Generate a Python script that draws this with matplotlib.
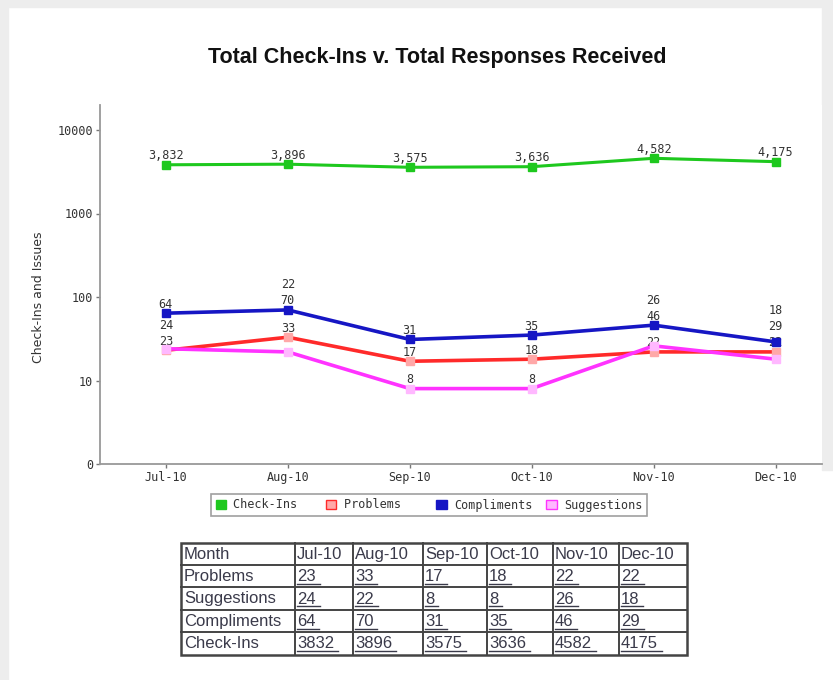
import matplotlib
matplotlib.use('Agg')
import matplotlib.pyplot as plt
from matplotlib.patches import Rectangle, Patch
from matplotlib.ticker import FixedLocator, FixedFormatter, NullLocator

months = ['Jul-10', 'Aug-10', 'Sep-10', 'Oct-10', 'Nov-10', 'Dec-10']
check_ins = [3832, 3896, 3575, 3636, 4582, 4175]
problems = [23, 33, 17, 18, 22, 22]
suggestions = [24, 22, 8, 8, 26, 18]
compliments = [64, 70, 31, 35, 46, 29]

y_ticks = [1, 10, 100, 1000, 10000]
y_tick_labels = ['0', '10', '100', '1000', '10000']

W, H = 833, 680
fig = plt.figure(figsize=(W / 100, H / 100), dpi=100)
fig.patch.set_facecolor('white')


def fx(px):
    return px / W


def fy(py):
    return 1 - py / H


# screenshot frame around the card
for x0, y0, w, h in [(0, 0, W, 7), (0, 0, 8, H), (822, 0, 11, 470)]:
    fig.add_artist(Rectangle((fx(x0), fy(y0 + h)), w / W, h / H,
                             transform=fig.transFigure, color='#ededed', zorder=0))

fig.text(fx(437), fy(58), 'Total Check-Ins v. Total Responses Received',
         ha='center', va='center', fontsize=15.5, fontweight='bold',
         family='Liberation Sans', color='#111111')

ax = fig.add_axes([fx(100), fy(464), (822 - 100) / W, (464 - 105) / H])
ax.set_yscale('log')
ax.set_ylim(1, 10 ** (4 + (130 - 105) / 83.5))
ax.set_xlim(-0.54, 5.38)
ax.yaxis.set_major_locator(FixedLocator(y_ticks))
ax.yaxis.set_major_formatter(FixedFormatter(y_tick_labels))
ax.yaxis.set_minor_locator(NullLocator())
x = list(range(len(months)))
ax.set_xticks(x)
ax.set_xticklabels(months)
for side in ['top', 'right']:
    ax.spines[side].set_visible(False)
for side in ['left', 'bottom']:
    ax.spines[side].set_color('#999999')
    ax.spines[side].set_linewidth(1.3)
ax.tick_params(axis='both', length=3, width=1, color='#777777',
               labelsize=8.5, labelcolor='#333333', pad=2)
for lab in ax.get_xticklabels() + ax.get_yticklabels():
    lab.set_family('DejaVu Sans Mono')
ax.set_ylabel('Check-Ins and Issues', fontsize=9, color='#333333')
ax.yaxis.set_label_coords((45 - 100) / 722, (464 - 297) / 359)

series = [
    ('Check-Ins', check_ins, '#1ec81e', '#1ec81e', 2.2),
    ('Problems', problems, '#ff2a2a', '#ffa8a8', 2.6),
    ('Compliments', compliments, '#1616c4', '#1616c4', 2.6),
    ('Suggestions', suggestions, '#ff33ff', '#ffb8ff', 2.6),
]
for name, vals, col, mcol, lw in series:
    ax.plot(x, vals, color=col, lw=lw, marker='s', ms=5.5, mfc=mcol, mec=mcol,
            zorder=3, clip_on=False)

label_kw = dict(ha='center', va='center', fontsize=8.5, color='#333333',
                family='DejaVu Sans Mono', textcoords='offset pixels')

# check-in labels
for i, v in enumerate(check_ins):
    ax.annotate(f'{v:,}', (i, v), xytext=(0, 9), zorder=4, **label_kw)

# small series labels, pushed up when they collide
label_h = 16
small = [problems, compliments, suggestions]
for i in x:
    placed = []
    for vals in small:
        py = ax.transData.transform((i, vals[i]))[1]
        y = py + 9
        moved = True
        while moved:
            moved = False
            for q in placed:
                if abs(y - q) < label_h - 0.5:
                    y = q + label_h
                    moved = True
        placed.append(y)
        ax.annotate(str(vals[i]), (i, vals[i]), xytext=(0, y - py), zorder=2, **label_kw)

handles = [Patch(facecolor=mcol if name in ('Problems', 'Suggestions') else col,
                 edgecolor=col, label=name.ljust(11))
           for name, vals, col, mcol, lw in series]
leg = fig.legend(handles=handles, loc='center', bbox_to_anchor=(fx(429), fy(505)),
                 ncol=4, frameon=True, fancybox=False,
                 handlelength=0.9, handleheight=0.9, handletextpad=0.6,
                 columnspacing=1.2, borderpad=0.35,
                 prop={'family': 'DejaVu Sans Mono', 'size': 8.5})
leg.get_frame().set_edgecolor('#888888')
leg.get_frame().set_linewidth(1.2)
for t in leg.get_texts():
    t.set_color('#333333')

# data table under the chart
tax = fig.add_axes([0, 0, 1, 1], facecolor='none')
tax.set_xlim(0, W)
tax.set_ylim(H, 0)
tax.axis('off')

col_edges = [181, 295, 353, 423, 487, 553, 619, 687]
row_edges = [543, 565, 587, 610, 632, 655]
row_names = ['Problems', 'Suggestions', 'Compliments', 'Check-Ins']
row_vals = [problems, suggestions, compliments, check_ins]

tax.add_patch(Rectangle((col_edges[0], row_edges[0]), col_edges[-1] - col_edges[0],
                        row_edges[-1] - row_edges[0],
                        fill=False, edgecolor='#444444', lw=1.8))
for cx in col_edges[1:-1]:
    tax.plot([cx, cx], [row_edges[0], row_edges[-1]], color='#444444', lw=1.4)
for yy in row_edges[1:-1]:
    tax.plot([col_edges[0], col_edges[-1]], [yy, yy], color='#444444', lw=1.4)

tkw = dict(ha='left', va='center', fontsize=12, family='Liberation Sans', color='#3a3a4a')
row_mid = [(a + b) / 2 + 0.5 for a, b in zip(row_edges[:-1], row_edges[1:])]
tax.text(col_edges[0] + 3, row_mid[0], 'Month', **tkw)
for j, m in enumerate(months):
    tax.text(col_edges[j + 1] + 2, row_mid[0], m, **tkw)

renderer = fig.canvas.get_renderer()
for r, (name, vals) in enumerate(zip(row_names, row_vals)):
    yc = row_mid[r + 1]
    tax.text(col_edges[0] + 3, yc, name, **tkw)
    for j, v in enumerate(vals):
        t = tax.text(col_edges[j + 1] + 2, yc, str(v), **tkw)
        bb = t.get_window_extent(renderer).transformed(tax.transData.inverted())
        x0, x1 = sorted([bb.x0, bb.x1])
        tax.plot([x0, x1 + 4], [yc + 7, yc + 7], color='#3a3a4a', lw=1)

fig.savefig('out.png', dpi=100)
